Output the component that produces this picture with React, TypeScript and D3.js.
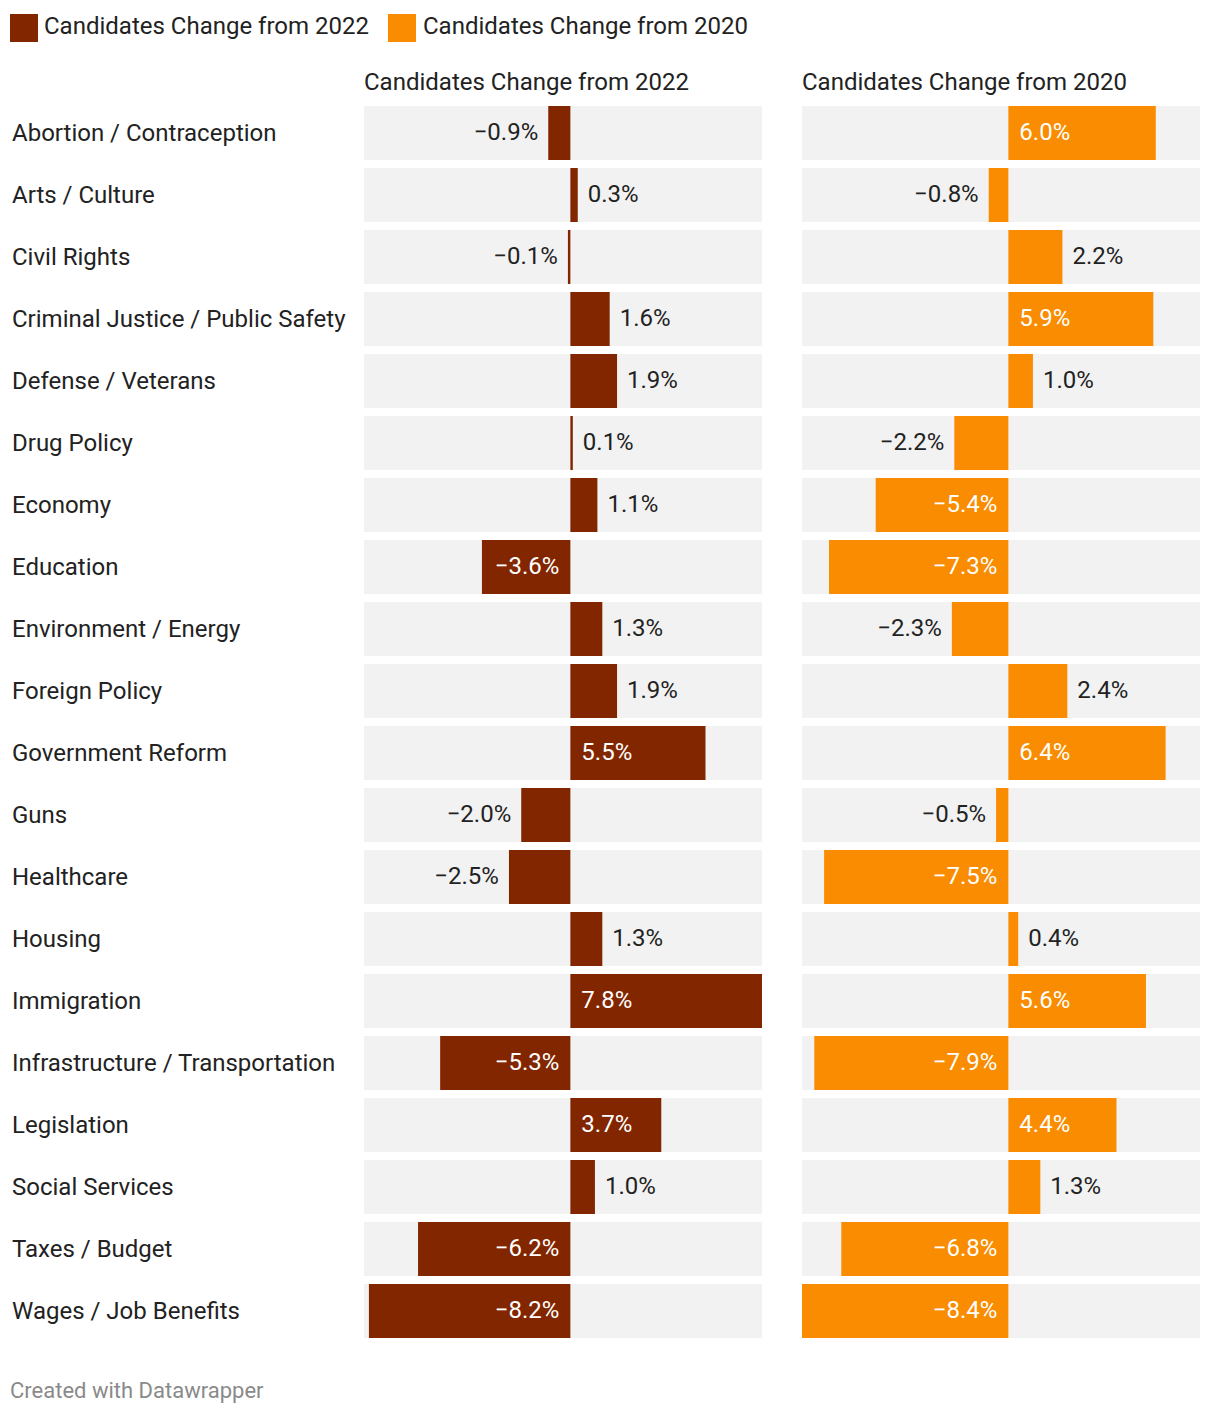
import React from "react";
import * as d3 from "d3";

const categories = [
  "Abortion / Contraception",
  "Arts / Culture",
  "Civil Rights",
  "Criminal Justice / Public Safety",
  "Defense / Veterans",
  "Drug Policy",
  "Economy",
  "Education",
  "Environment / Energy",
  "Foreign Policy",
  "Government Reform",
  "Guns",
  "Healthcare",
  "Housing",
  "Immigration",
  "Infrastructure / Transportation",
  "Legislation",
  "Social Services",
  "Taxes / Budget",
  "Wages / Job Benefits",
];

const change2022 = [-0.9, 0.3, -0.1, 1.6, 1.9, 0.1, 1.1, -3.6, 1.3, 1.9, 5.5, -2.0, -2.5, 1.3, 7.8, -5.3, 3.7, 1.0, -6.2, -8.2];
const change2020 = [6.0, -0.8, 2.2, 5.9, 1.0, -2.2, -5.4, -7.3, -2.3, 2.4, 6.4, -0.5, -7.5, 0.4, 5.6, -7.9, 4.4, 1.3, -6.8, -8.4];

const seriesNames = ["Candidates Change from 2022", "Candidates Change from 2020"];
const seriesColors = ["#822600", "#f98c00"];

const FONT = "Roboto, 'Noto Sans', sans-serif";

export default function App() {
  const W = 1220;
  const H = 1416;
  const allVals = [...change2022, ...change2020];
  const domain: [number, number] = [d3.min(allVals)!, d3.max(allVals)!];
  const panels = [
    { x0: 364, x1: 762, values: change2022 },
    { x0: 802, x1: 1200, values: change2020 },
  ];
  const y = d3
    .scaleBand<string>()
    .domain(categories)
    .range([106, 106 + 62 * categories.length - 8])
    .paddingInner(8 / 62)
    .paddingOuter(0);
  const fmt = (v: number) => (v < 0 ? "\u2212" : "") + Math.abs(v).toFixed(1) + "%";

  return (
    <svg width={W} height={H} style={{ position: "absolute", left: 0, top: 0 }} fontFamily={FONT}>
      <rect width={W} height={H} fill="#fff" />
      <g>
        <rect x={10} y={14} width={28} height={28} fill={seriesColors[0]} />
        <text x={44} y={34} fontSize={24} fill="#222">{seriesNames[0]}</text>
        <rect x={388} y={14} width={28} height={28} fill={seriesColors[1]} />
        <text x={423} y={34} fontSize={24} fill="#222">{seriesNames[1]}</text>
      </g>
      {categories.map((c) => (
        <text key={c} x={12} y={y(c)! + y.bandwidth() / 2 + 8} fontSize={24} fill="#222">
          {c}
        </text>
      ))}
      {panels.map((p, pi) => {
        const x = d3.scaleLinear().domain(domain).range([p.x0, p.x1]);
        const zero = x(0);
        return (
          <g key={pi}>
            <text x={p.x0} y={90} fontSize={24} fill="#222">{seriesNames[pi]}</text>
            {categories.map((c, i) => {
              const v = p.values[i];
              const yy = y(c)!;
              const bh = y.bandwidth();
              const xe = x(v);
              const inside = Math.abs(v) >= 3;
              let tx: number;
              if (inside) {
                tx = v >= 0 ? zero + 11 : zero - 11;
              } else {
                tx = v >= 0 ? xe + 10 : xe - 10;
              }
              const anchor = v >= 0 ? "start" : "end";
              return (
                <g key={c}>
                  <rect x={p.x0} y={yy} width={p.x1 - p.x0} height={bh} fill="#f2f2f2" />
                  <rect x={Math.min(zero, xe)} y={yy} width={Math.abs(xe - zero)} height={bh} fill={seriesColors[pi]} />
                  <text
                    x={tx}
                    y={yy + bh / 2 + 7}
                    fontSize={24}
                    textAnchor={anchor}
                    fill={inside ? "#fff" : "#222"}
                  >
                    {fmt(v)}
                  </text>
                </g>
              );
            })}
          </g>
        );
      })}
      <text x={10} y={1398} fontSize={22} fill="#8a8a8a">Created with Datawrapper</text>
    </svg>
  );
}
